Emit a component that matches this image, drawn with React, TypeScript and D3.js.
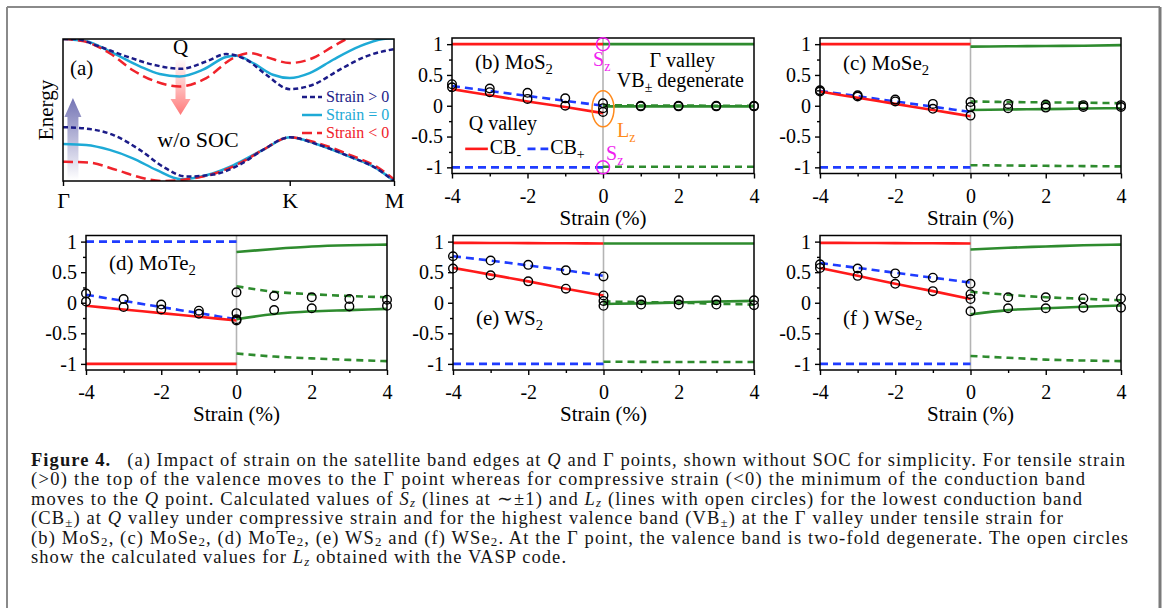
import React, { useEffect, useRef } from "react";
import * as d3 from "d3";

const FONT = '"Liberation Serif", "Times New Roman", Times, serif';

const RED = "#ff1a1a";
const BLUE = "#1f3cff";
const GREEN = "#2e8b2e";
const NAVY = "#1c1c88";
const CYAN = "#1eaad6";
const RED_A = "#f0232b";
const MAGENTA = "#f01ef0";
const ORANGE = "#ff8a1c";
const GRAY = "#b4b4b4";

// ---------- (a) band sketch: k along Γ-K-M (0..1), energy in box units (0..1)
const kTicks = [0, 0.685, 1];
const kLabels = ["Γ", "K", "M"];

const cbTensileK = [0, 0.04, 0.1, 0.191, 0.272, 0.357, 0.433, 0.493, 0.554, 0.614, 0.685, 0.755, 0.836, 0.916, 1.0];
const cbTensileE = [1.0, 1.0, 0.955, 0.878, 0.819, 0.79, 0.842, 0.894, 0.854, 0.748, 0.647, 0.678, 0.784, 0.878, 0.929];
const cbZeroK = [0, 0.07, 0.141, 0.232, 0.292, 0.352, 0.423, 0.493, 0.524, 0.574, 0.634, 0.685, 0.745, 0.816, 0.896, 0.967, 1.0];
const cbZeroE = [1.0, 0.985, 0.913, 0.807, 0.753, 0.736, 0.784, 0.873, 0.882, 0.831, 0.748, 0.725, 0.76, 0.854, 0.948, 1.0, 1.005];
const cbCompK = [0, 0.06, 0.141, 0.211, 0.282, 0.352, 0.433, 0.514, 0.564, 0.614, 0.685, 0.755, 0.816, 0.856, 0.916];
const cbCompE = [1.0, 0.985, 0.9, 0.78, 0.699, 0.666, 0.725, 0.866, 0.901, 0.873, 0.831, 0.866, 0.948, 1.0, 1.066];

const vbTensileK = [0, 0.07, 0.151, 0.232, 0.302, 0.373, 0.453, 0.534, 0.604, 0.685, 0.765, 0.866, 0.947, 1.0];
const vbTensileE = [0.379, 0.369, 0.325, 0.219, 0.101, 0.031, 0.045, 0.115, 0.219, 0.308, 0.261, 0.172, 0.089, 0.0];
const vbZeroK = [0, 0.07, 0.141, 0.211, 0.282, 0.357, 0.433, 0.514, 0.604, 0.685, 0.765, 0.866, 0.947, 1.0];
const vbZeroE = [0.261, 0.254, 0.219, 0.16, 0.078, 0.012, 0.04, 0.11, 0.219, 0.308, 0.261, 0.172, 0.089, 0.0];
const vbCompK = [0, 0.08, 0.161, 0.232, 0.302, 0.373, 0.453, 0.534, 0.604, 0.685, 0.765, 0.866, 0.947, 1.0];
const vbCompE = [0.136, 0.129, 0.078, 0.026, 0.0, 0.012, 0.049, 0.125, 0.219, 0.308, 0.27, 0.184, 0.101, 0.012];

const legendA = ["Strain > 0", "Strain = 0", "Strain < 0"];

// ---------- (b)-(f) Sz / Lz vs strain
const strainNeg = [-4, -3, -2, -1, 0];
const strainPos = [0, 1, 2, 3, 4];
const circlePosX = [1, 2, 3, 4];
const yTickVals = [-1, -0.5, 0, 0.5, 1];
const yMinorVals = [-0.75, -0.25, 0.25, 0.75];
const xTickVals = [-4, -2, 0, 2, 4];
const xMinorVals = [-3, -1, 1, 3];

// (b) MoS2
const mos2RedSz = [1, 1, 1, 1, 1];
const mos2BlueSz = [-1, -1, -1, -1, -1];
const mos2RedLz = [0.27, 0.17, 0.07, -0.02, -0.12];
const mos2BlueLz = [0.32, 0.24, 0.16, 0.08, 0.0];
const mos2GreenSolidSz = [1, 1, 1, 1, 1];
const mos2GreenSolidLz = [-0.01, -0.01, -0.01, -0.01, -0.01];
const mos2GreenDashSz = [-0.99, -0.99, -0.99, -0.99, -0.99];
const mos2GreenDashLz = [0.01, 0.005, 0.005, 0.0, 0.0];
const mos2CircNegA = [0.35, 0.28, 0.21, 0.12, 0.04];
const mos2CircNegB = [0.3, 0.22, 0.11, 0.0, -0.04];
const mos2CircZero = [-0.1];
const mos2CircPosA = [0.0, 0.0, 0.0, 0.0];
const mos2CircPosB = [-0.01, -0.01, -0.01, -0.01];

// (c) MoSe2
const mose2RedSz = [1, 1, 1, 1, 1];
const mose2BlueSz = [-1, -1, -1, -1, -1];
const mose2RedLz = [0.23, 0.13, 0.03, -0.07, -0.17];
const mose2BlueLz = [0.24, 0.155, 0.07, -0.015, -0.1];
const mose2GreenSolidSz = [0.96, 0.965, 0.97, 0.975, 0.985];
const mose2GreenSolidLz = [-0.07, -0.06, -0.055, -0.045, -0.04];
const mose2GreenDashSz = [-0.965, -0.97, -0.975, -0.98, -0.985];
const mose2GreenDashLz = [0.07, 0.06, 0.055, 0.05, 0.04];
const mose2CircNegA = [0.25, 0.17, 0.1, 0.03, 0.06];
const mose2CircNegB = [0.23, 0.15, 0.07, -0.05, -0.02];
const mose2CircZero = [-0.16];
const mose2CircPosA = [0.03, 0.02, 0.01, 0.01];
const mose2CircPosB = [-0.04, -0.03, -0.02, -0.02];

// (d) MoTe2
const mote2RedSz = [-1, -1, -1, -1, -1];
const mote2BlueSz = [1, 1, 1, 1, 1];
const mote2RedLz = [-0.05, -0.11, -0.17, -0.23, -0.29];
const mote2BlueLz = [0.13, 0.03, -0.07, -0.17, -0.27];
const mote2GreenSolidSz = [0.83, 0.88, 0.92, 0.94, 0.95];
const mote2GreenSolidLz = [-0.27, -0.185, -0.14, -0.12, -0.1];
const mote2GreenDashSz = [-0.83, -0.88, -0.91, -0.935, -0.955];
const mote2GreenDashLz = [0.27, 0.18, 0.14, 0.11, 0.09];
const mote2CircNegA = [0.15, 0.06, -0.03, -0.13, 0.17];
const mote2CircNegB = [0.02, -0.07, -0.11, -0.18, -0.17];
const mote2CircZero = [-0.27, -0.29];
const mote2CircPosA = [0.11, 0.09, 0.06, 0.05];
const mote2CircPosB = [-0.12, -0.09, -0.06, -0.05];

// (e) WS2
const ws2RedSz = [0.98, 0.978, 0.975, 0.972, 0.97];
const ws2BlueSz = [-1, -1, -1, -1, -1];
const ws2RedLz = [0.57, 0.46, 0.35, 0.23, 0.12];
const ws2BlueLz = [0.76, 0.69, 0.61, 0.53, 0.44];
const ws2GreenSolidSz = [0.97, 0.97, 0.97, 0.97, 0.97];
const ws2GreenSolidLz = [-0.02, -0.01, 0.005, 0.02, 0.03];
const ws2GreenDashSz = [-0.965, -0.967, -0.97, -0.97, -0.97];
const ws2GreenDashLz = [0.02, 0.01, 0.0, -0.015, -0.03];
const ws2CircNegA = [0.76, 0.69, 0.62, 0.53, 0.43];
const ws2CircNegB = [0.56, 0.45, 0.35, 0.23, 0.12];
const ws2CircZero = [0.03, -0.05];
const ws2CircPosA = [0.04, 0.04, 0.04, 0.04];
const ws2CircPosB = [-0.03, -0.03, -0.03, -0.04];

// (f) WSe2
const wse2RedSz = [0.98, 0.978, 0.975, 0.972, 0.97];
const wse2BlueSz = [-1, -1, -1, -1, -1];
const wse2RedLz = [0.57, 0.44, 0.31, 0.19, 0.06];
const wse2BlueLz = [0.65, 0.57, 0.49, 0.41, 0.33];
const wse2GreenSolidSz = [0.87, 0.9, 0.92, 0.94, 0.95];
const wse2GreenSolidLz = [-0.19, -0.12, -0.09, -0.065, -0.045];
const wse2GreenDashSz = [-0.87, -0.9, -0.93, -0.945, -0.955];
const wse2GreenDashLz = [0.18, 0.13, 0.09, 0.065, 0.04];
const wse2CircNegA = [0.63, 0.56, 0.48, 0.41, 0.31];
const wse2CircNegB = [0.57, 0.44, 0.31, 0.19, 0.14];
const wse2CircZero = [0.06, -0.14];
const wse2CircPosA = [0.09, 0.09, 0.07, 0.07];
const wse2CircPosB = [-0.09, -0.09, -0.08, -0.08];

type Run = { t: string; b?: boolean; i?: boolean; sub?: boolean };

// text with subscripts, baseline restored after each subscript
function runs(list: Run[], size: number, shift: number) {
  let cur = 0;
  return list.map((r, k) => {
    const target = r.sub ? shift : 0;
    const dy = target - cur;
    cur = target;
    return (
      <tspan
        key={k}
        dy={dy || undefined}
        fontSize={r.sub ? size * 0.7 : undefined}
        fontWeight={r.b ? "bold" : undefined}
        fontStyle={r.i ? "italic" : undefined}
      >
        {r.t}
      </tspan>
    );
  });
}

function StrainPanel(props: any) {
  const { box, d, title, titleDy, annotate } = props;
  const [left, top, right, bottom] = box;
  const axRef = useRef<SVGGElement>(null);
  const x = d3.scaleLinear().domain([-4, 4]).range([left, right]);
  const y = d3.scaleLinear().domain([-1.1, 1.1]).range([bottom, top]);

  useEffect(() => {
    const g = d3.select(axRef.current);
    g.selectAll("*").remove();
    const bx = g.append("g").attr("transform", `translate(0,${bottom})`);
    bx.call(d3.axisBottom(x).tickValues(xTickVals).tickSize(5).tickPadding(10).tickFormat((v: any) => String(v)));
    bx.append("g").call(d3.axisBottom(x).tickValues(xMinorVals).tickSize(3).tickFormat(() => ""));
    const ly = g.append("g").attr("transform", `translate(${left},0)`);
    ly.call(d3.axisLeft(y).tickValues(yTickVals).tickSize(5).tickPadding(4).tickFormat((v: any) => String(v)));
    ly.append("g").call(d3.axisLeft(y).tickValues(yMinorVals).tickSize(3).tickFormat(() => ""));
    g.selectAll(".domain").remove();
    g.selectAll("g").attr("font-family", FONT).attr("font-size", 20);
    g.selectAll("line").attr("stroke", "#000").attr("stroke-width", 1.4);
    g.selectAll("text").attr("fill", "#000");
  });

  const line = d3
    .line<[number, number]>()
    .x((p) => x(p[0]))
    .y((p) => y(p[1]))
    .curve(d3.curveMonotoneX);

  const series = [
    { xs: strainNeg, ys: d.blueSz, color: BLUE, dash: "8,5" },
    { xs: strainNeg, ys: d.blueLz, color: BLUE, dash: "8,5" },
    { xs: strainNeg, ys: d.redSz, color: RED },
    { xs: strainNeg, ys: d.redLz, color: RED },
    { xs: strainPos, ys: d.greenDashSz, color: GREEN, dash: "7,5" },
    { xs: strainPos, ys: d.greenDashLz, color: GREEN, dash: "7,5" },
    { xs: strainPos, ys: d.greenSolidSz, color: GREEN },
    { xs: strainPos, ys: d.greenSolidLz, color: GREEN },
  ];

  const circles: [number, number][] = [
    ...(d3.zip(strainNeg, d.circNegA) as [number, number][]),
    ...(d3.zip(strainNeg, d.circNegB) as [number, number][]),
    ...d.circZero.map((v: number) => [0, v] as [number, number]),
    ...(d3.zip(circlePosX, d.circPosA) as [number, number][]),
    ...(d3.zip(circlePosX, d.circPosB) as [number, number][]),
  ];

  return (
    <g>
      <line x1={x(0)} x2={x(0)} y1={top} y2={bottom} stroke={GRAY} strokeWidth={1.6} />
      {series.map((s, k) => (
        <path
          key={k}
          d={line(d3.zip(s.xs, s.ys) as [number, number][]) || ""}
          fill="none"
          stroke={s.color}
          strokeWidth={2.6}
          strokeDasharray={s.dash}
        />
      ))}
      {circles.map((c, k) => (
        <circle key={k} cx={x(c[0])} cy={y(c[1])} r={4.3} fill="none" stroke="#000" strokeWidth={1.4} />
      ))}
      <rect x={left} y={top} width={right - left} height={bottom - top} fill="none" stroke="#000" strokeWidth={1.5} />
      <g ref={axRef} />
      <text x={left + 23} y={top + titleDy} fontFamily={FONT} fontSize={21}>
        {runs(title, 21, 5)}
      </text>
      <text x={(left + right) / 2} y={bottom + 51} fontFamily={FONT} fontSize={21} textAnchor="middle">
        Strain (%)
      </text>
      {annotate ? annotate(x, y) : null}
    </g>
  );
}

function BandPanel() {
  const axRef = useRef<SVGGElement>(null);
  const left = 63, right = 394, top = 39, bottom = 181;
  const x = d3.scaleLinear().domain([0, 1]).range([left, right]);
  const y = d3.scaleLinear().domain([0, 1]).range([bottom, top]);

  useEffect(() => {
    const g = d3.select(axRef.current);
    g.selectAll("*").remove();
    g.append("g")
      .attr("transform", `translate(0,${bottom})`)
      .call(d3.axisBottom(x).tickValues(kTicks).tickSize(5).tickPadding(6).tickFormat((_v: any, i: number) => kLabels[i]));
    g.selectAll(".domain").remove();
    g.selectAll("g").attr("font-family", FONT).attr("font-size", 22);
    g.selectAll("line").attr("stroke", "#000").attr("stroke-width", 1.4);
    g.selectAll("text").attr("fill", "#000");
  });

  const line = d3
    .line<[number, number]>()
    .x((p) => x(p[0]))
    .y((p) => y(p[1]))
    .curve(d3.curveMonotoneX);

  const curves = [
    { k: cbZeroK, e: cbZeroE, color: CYAN },
    { k: vbZeroK, e: vbZeroE, color: CYAN },
    { k: cbCompK, e: cbCompE, color: RED_A, dash: "10,5" },
    { k: vbCompK, e: vbCompE, color: RED_A, dash: "10,5" },
    { k: cbTensileK, e: cbTensileE, color: NAVY, dash: "5,3" },
    { k: vbTensileK, e: vbTensileE, color: NAVY, dash: "5,3" },
  ];
  const legendStyle = [
    { color: NAVY, dash: "5,3" },
    { color: CYAN },
    { color: RED_A, dash: "10,5" },
  ];

  // arrows anchored at k positions
  const bx = x(0.03), rx = x(0.355);
  return (
    <g>
      <defs>
        <clipPath id="clipA">
          <rect x={left} y={top} width={right - left} height={bottom - top} />
        </clipPath>
        <linearGradient id="gradUp" x1="0" y1="0" x2="0" y2="1">
          <stop offset="0" stopColor="#6c6cb0" stopOpacity={0.95} />
          <stop offset="1" stopColor="#6c6cb0" stopOpacity={0} />
        </linearGradient>
        <linearGradient id="gradDown" x1="0" y1="0" x2="0" y2="1">
          <stop offset="0" stopColor="#ff8080" stopOpacity={0.05} />
          <stop offset="1" stopColor="#ff7070" stopOpacity={0.95} />
        </linearGradient>
      </defs>
      <path
        d={`M${bx - 5.5},180 L${bx - 5.5},117 L${bx - 8.5},117 L${bx},98 L${bx + 8.5},117 L${bx + 5.5},117 L${bx + 5.5},180 Z`}
        fill="url(#gradUp)"
      />
      <path
        d={`M${rx - 5},60 L${rx - 5},99 L${rx - 10},99 L${rx},115 L${rx + 10},99 L${rx + 5},99 L${rx + 5},60 Z`}
        fill="url(#gradDown)"
      />
      <g clipPath="url(#clipA)">
        {curves.map((c, i) => (
          <path
            key={i}
            d={line(d3.zip(c.k, c.e) as [number, number][]) || ""}
            fill="none"
            stroke={c.color}
            strokeWidth={2.5}
            strokeDasharray={c.dash}
          />
        ))}
      </g>
      <rect x={left} y={top} width={right - left} height={bottom - top} fill="none" stroke="#000" strokeWidth={1.5} />
      <g ref={axRef} />
      <text x={70} y={75} fontFamily={FONT} fontSize={21}>(a)</text>
      <text x={rx} y={54} fontFamily={FONT} fontSize={21} textAnchor="middle">Q</text>
      <text x={198} y={147} fontFamily={FONT} fontSize={22} textAnchor="middle">w/o SOC</text>
      <text transform="translate(53,110) rotate(-90)" fontFamily={FONT} fontSize={21} textAnchor="middle">Energy</text>
      {legendA.map((t, i) => (
        <g key={t}>
          <line
            x1={302}
            x2={322}
            y1={97 + i * 18}
            y2={97 + i * 18}
            stroke={legendStyle[i].color}
            strokeWidth={2.5}
            strokeDasharray={legendStyle[i].dash}
          />
          <text x={326} y={102 + i * 18} fontFamily={FONT} fontSize={16} fill={legendStyle[i].color}>{t}</text>
        </g>
      ))}
    </g>
  );
}

function mk(p: string) {
  const src: any = {
    mos2: [mos2RedSz, mos2BlueSz, mos2RedLz, mos2BlueLz, mos2GreenSolidSz, mos2GreenSolidLz, mos2GreenDashSz, mos2GreenDashLz, mos2CircNegA, mos2CircNegB, mos2CircZero, mos2CircPosA, mos2CircPosB],
    mose2: [mose2RedSz, mose2BlueSz, mose2RedLz, mose2BlueLz, mose2GreenSolidSz, mose2GreenSolidLz, mose2GreenDashSz, mose2GreenDashLz, mose2CircNegA, mose2CircNegB, mose2CircZero, mose2CircPosA, mose2CircPosB],
    mote2: [mote2RedSz, mote2BlueSz, mote2RedLz, mote2BlueLz, mote2GreenSolidSz, mote2GreenSolidLz, mote2GreenDashSz, mote2GreenDashLz, mote2CircNegA, mote2CircNegB, mote2CircZero, mote2CircPosA, mote2CircPosB],
    ws2: [ws2RedSz, ws2BlueSz, ws2RedLz, ws2BlueLz, ws2GreenSolidSz, ws2GreenSolidLz, ws2GreenDashSz, ws2GreenDashLz, ws2CircNegA, ws2CircNegB, ws2CircZero, ws2CircPosA, ws2CircPosB],
    wse2: [wse2RedSz, wse2BlueSz, wse2RedLz, wse2BlueLz, wse2GreenSolidSz, wse2GreenSolidLz, wse2GreenDashSz, wse2GreenDashLz, wse2CircNegA, wse2CircNegB, wse2CircZero, wse2CircPosA, wse2CircPosB],
  }[p];
  const keys = ["redSz", "blueSz", "redLz", "blueLz", "greenSolidSz", "greenSolidLz", "greenDashSz", "greenDashLz", "circNegA", "circNegB", "circZero", "circPosA", "circPosB"];
  const o: any = {};
  keys.forEach((k, i) => (o[k] = src[i]));
  return o;
}

const captionLines: { runs: Run[]; end: number }[] = [
  {
    end: 1125,
    runs: [
      { t: "Figure 4.", b: true },
      { t: "\u2002 (a) Impact of strain on the satellite band edges at " },
      { t: "Q", i: true },
      { t: " and Γ points, shown without SOC for simplicity. For tensile strain" },
    ],
  },
  { end: 1085, runs: [{ t: "(>0) the top of the valence moves to the Γ point whereas for compressive strain (<0) the minimum of the conduction band" }] },
  {
    end: 1082,
    runs: [
      { t: "moves to the " },
      { t: "Q", i: true },
      { t: " point. Calculated values of " },
      { t: "S", i: true },
      { t: "z", i: true, sub: true },
      { t: " (lines at ∼±1) and " },
      { t: "L", i: true },
      { t: "z", i: true, sub: true },
      { t: " (lines with open circles) for the lowest conduction band" },
    ],
  },
  {
    end: 1063,
    runs: [
      { t: "(CB" },
      { t: "±", sub: true },
      { t: ") at " },
      { t: "Q", i: true },
      { t: " valley under compressive strain and for the highest valence band (VB" },
      { t: "±", sub: true },
      { t: ") at the Γ valley under tensile strain for" },
    ],
  },
  {
    end: 1128,
    runs: [
      { t: "(b) MoS" },
      { t: "2", sub: true },
      { t: ", (c) MoSe" },
      { t: "2", sub: true },
      { t: ", (d) MoTe" },
      { t: "2", sub: true },
      { t: ", (e) WS" },
      { t: "2", sub: true },
      { t: " and (f) WSe" },
      { t: "2", sub: true },
      { t: ". At the Γ point, the valence band is two-fold degenerate. The open circles" },
    ],
  },
  {
    end: 566,
    runs: [
      { t: "show the calculated values for " },
      { t: "L", i: true },
      { t: "z", i: true, sub: true },
      { t: " obtained with the VASP code." },
    ],
  },
];

const annotateB = (x: any, y: any) => {
  const x0 = x(0);
  return (
    <g fontFamily={FONT} fontSize={20}>
      <circle cx={x0} cy={y(1)} r={6.5} fill="none" stroke={MAGENTA} strokeWidth={1.5} />
      <circle cx={x0} cy={y(-1)} r={6.5} fill="none" stroke={MAGENTA} strokeWidth={1.5} />
      <ellipse cx={x0} cy={y(-0.05)} rx={11} ry={18} fill="none" stroke={ORANGE} strokeWidth={1.5} />
      <text x={x0 - 10} y={y(1) + 22} fill={MAGENTA}>{runs([{ t: "S" }, { t: "z", sub: true }], 20, 5)}</text>
      <text x={x0 + 3} y={y(-1) - 7} fill={MAGENTA}>{runs([{ t: "S" }, { t: "z", sub: true }], 20, 5)}</text>
      <text x={x0 + 14} y={y(-0.5)} fill={ORANGE}>{runs([{ t: "L" }, { t: "z", sub: true }], 20, 5)}</text>
      <text x={x(2.1)} y={y(0.5) - 8} textAnchor="middle">Γ valley</text>
      <text x={x(2.05)} y={y(0.5) + 12} textAnchor="middle">{runs([{ t: "VB" }, { t: "±", sub: true }, { t: " degenerate" }], 20, 5)}</text>
      <text x={x(-2.65)} y={y(-0.4)} textAnchor="middle">Q valley</text>
      <line x1={x(-3.65)} x2={x(-3.05)} y1={y(-0.7)} y2={y(-0.7)} stroke={RED} strokeWidth={2.6} />
      <text x={x(-3.0)} y={y(-0.7) + 5}>{runs([{ t: "CB" }, { t: "-", sub: true }], 20, 5)}</text>
      <line x1={x(-2.0)} x2={x(-1.45)} y1={y(-0.7)} y2={y(-0.7)} stroke={BLUE} strokeWidth={2.6} strokeDasharray="8,5" />
      <text x={x(-1.4)} y={y(-0.7) + 5}>{runs([{ t: "CB" }, { t: "+", sub: true }], 20, 5)}</text>
    </g>
  );
};

export default function App() {
  const topRow = [38, 173.5];
  const botRow = [235.5, 370];
  return (
    <svg
      width={1163}
      height={608}
      style={{ position: "absolute", left: 0, top: 0, display: "block", background: "#fff" }}
    >
      <rect width={1163} height={608} fill="#fff" />
      <line x1={7} y1={7} x2={1160} y2={7} stroke="#8a8a8a" strokeWidth={2} />
      <line x1={7} y1={7} x2={7} y2={608} stroke="#8a8a8a" strokeWidth={2} />
      <line x1={1160} y1={7} x2={1160} y2={608} stroke="#7a7a7a" strokeWidth={3} />

      <BandPanel />
      <StrainPanel box={[452, topRow[0], 754, topRow[1]]} d={mk("mos2")} title={[{ t: "(b) MoS" }, { t: "2", sub: true }]} titleDy={31} annotate={annotateB} />
      <StrainPanel box={[820, topRow[0], 1121, topRow[1]]} d={mk("mose2")} title={[{ t: "(c) MoSe" }, { t: "2", sub: true }]} titleDy={32} />
      <StrainPanel box={[86, botRow[0], 387, botRow[1]]} d={mk("mote2")} title={[{ t: "(d) MoTe" }, { t: "2", sub: true }]} titleDy={34} />
      <StrainPanel box={[453, botRow[0], 754, botRow[1]]} d={mk("ws2")} title={[{ t: "(e) WS" }, { t: "2", sub: true }]} titleDy={89} />
      <StrainPanel box={[820, botRow[0], 1121, botRow[1]]} d={mk("wse2")} title={[{ t: "(f ) WSe" }, { t: "2", sub: true }]} titleDy={89} />

      {captionLines.map((ln, i) => (
        <text
          key={i}
          x={31}
          y={466 + i * 19.4}
          fontFamily={FONT}
          fontSize={18.5}
          fill="#151515"
          textLength={ln.end - 31}
          lengthAdjust="spacing"
          style={{ whiteSpace: "pre" }}
        >
          {runs(ln.runs, 18.5, 2.5)}
        </text>
      ))}
    </svg>
  );
}
